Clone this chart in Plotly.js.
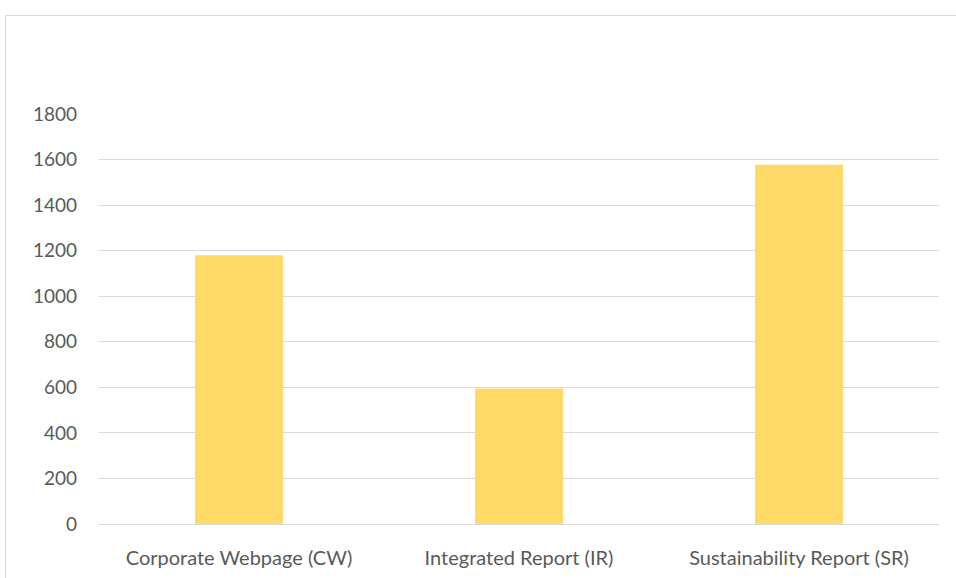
<!DOCTYPE html>
<html><head><meta charset="utf-8">
<script src="https://cdn.plot.ly/plotly-3.0.1.min.js"></script>
<style>
html,body{margin:0;padding:0;background:#fff;overflow:hidden;}
#frame{position:absolute;left:5px;top:15px;width:1000px;height:600px;border:1px solid #d9d9d9;box-sizing:border-box;}
#chart{position:absolute;left:0;top:0;width:956px;height:578px;}
</style></head>
<body>
<div id="frame"></div>
<div id="chart"></div>
<script>
const categories = ["Corporate Webpage (CW)", "Integrated Report (IR)", "Sustainability Report (SR)"];
const values = [1180, 595, 1577];
const yTicks = [0, 200, 400, 600, 800, 1000, 1200, 1400, 1600, 1800];

const trace = {
  type: 'bar', x: categories, y: values,
  marker: {color: '#FFD966'}, hoverinfo: 'none'
};
const layout = {
  width: 956, height: 578,
  margin: {l: 99, r: 17, t: 114, b: 54},
  paper_bgcolor: 'rgba(0,0,0,0)', plot_bgcolor: 'rgba(0,0,0,0)',
  bargap: 0.686, showlegend: false,
  font: {family: 'Lato, "Open Sans", sans-serif', color: '#595959', size: 19},
  xaxis: {
    type: 'category', showline: true, linecolor: '#d9d9d9', linewidth: 1,
    ticks: '', showgrid: false, ticklabelstandoff: 16, tickfont: {size: 20}
  },
  yaxis: {
    range: [0, 1800], tickvals: yTicks, ticktext: yTicks.map(String),
    showgrid: true, gridcolor: '#d9d9d9', gridwidth: 1, zeroline: false,
    showline: false, ticks: '', ticklabelstandoff: 21, tickfont: {size: 19}
  }
};
Plotly.newPlot('chart', [trace], layout, {staticPlot: true, displayModeBar: false});
</script>
</body></html>
